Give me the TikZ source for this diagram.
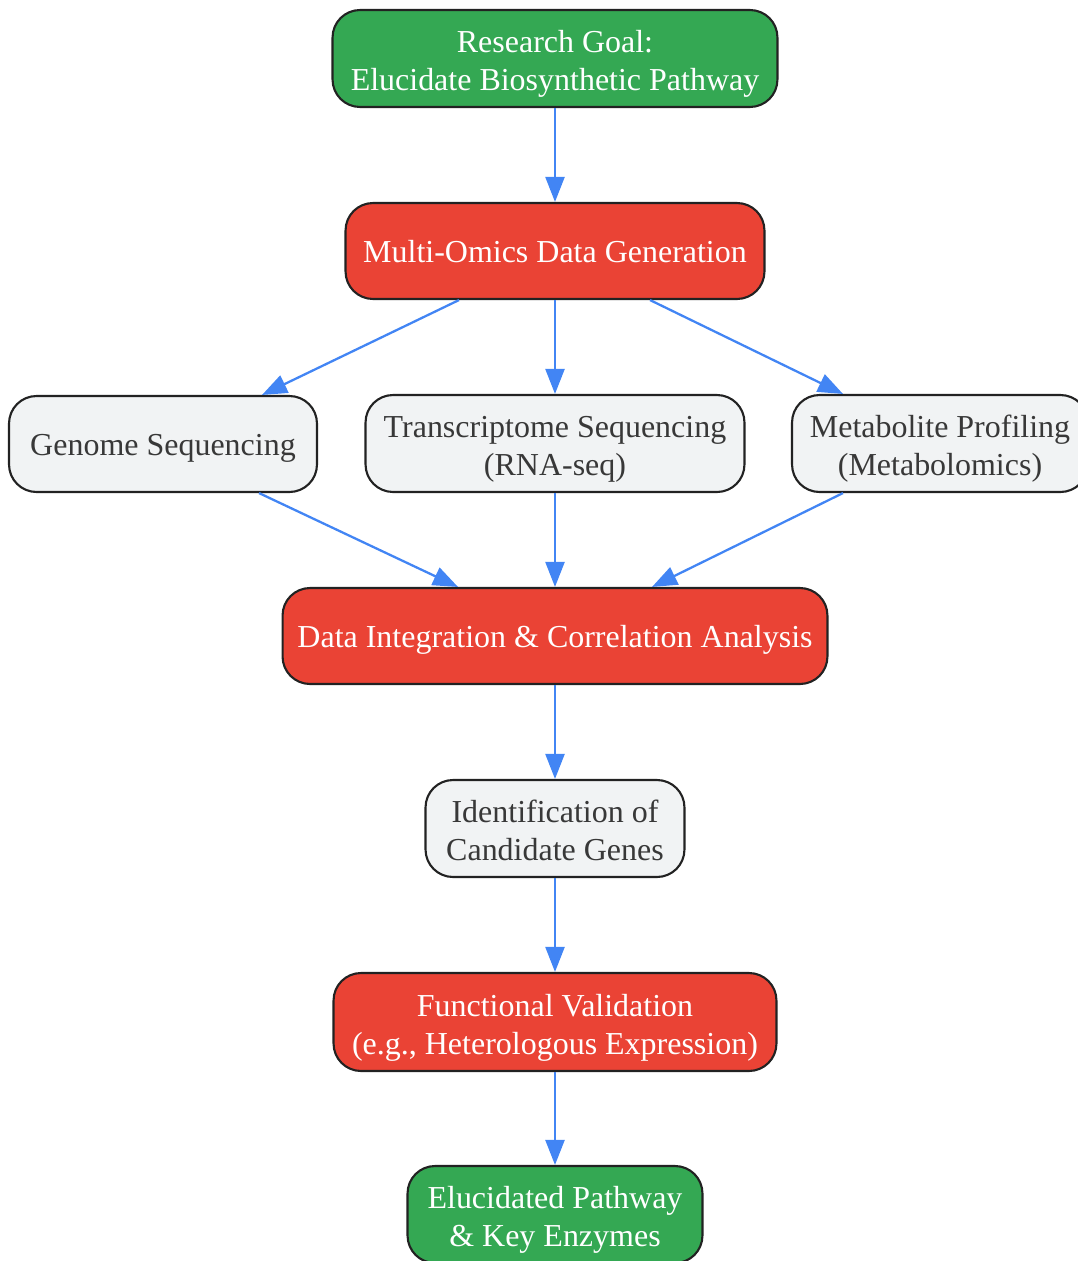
\documentclass[tikz,border=0pt]{standalone}
\usepackage{fontspec}
\setmainfont{Liberation Serif}
\usepackage{xcolor}
\usepackage{tikz}
\usetikzlibrary{calc,arrows.meta}

\definecolor{goalgreen}{HTML}{34A853}
\definecolor{stepred}{HTML}{EA4335}
\definecolor{datagrey}{HTML}{F1F3F4}
\definecolor{linkblue}{HTML}{4285F4}
\definecolor{inkdark}{HTML}{222222}

\tikzset{
  box/.style={draw=inkdark, line width=1.2pt, rounded corners=0.55cm, align=center,
    inner sep=0pt, font=\fontsize{18.2}{21.6}\selectfont,
    text height=0.66cm, text depth=0.2cm},
  twoline/.style={text height=1.48cm},
  greenbox/.style={box, fill=goalgreen, text=white},
  redbox/.style={box, fill=stepred, text=white},
  greybox/.style={box, fill=datagrey, text=inkdark!90},
  link/.style={draw=linkblue, line width=1.3pt, -{Triangle[length=0.5cm,width=0.38cm]}}
}

\begin{document}
\begin{tikzpicture}[x=0.02cm, y=-0.02cm]
    \useasboundingbox (0,0) rectangle (1078,1261);

    % Draw the main chain
    \node[greenbox, twoline, minimum width=8.9cm, minimum height=1.94cm] (goal) at (555,58.5)
        {Research Goal:\\Elucidate Biosynthetic Pathway};
    \node[redbox, minimum width=8.38cm, minimum height=1.92cm] (omics) at (555,251)
        {Multi-Omics Data Generation};

    % Draw the three data sources
    \node[greybox, minimum width=6.16cm, minimum height=1.92cm] (genome) at (163,444)
        {Genome Sequencing};
    \node[greybox, twoline, minimum width=7.58cm, minimum height=1.94cm] (rnaseq) at (555,443.5)
        {Transcriptome Sequencing\\(RNA-seq)};
    \node[greybox, twoline, minimum width=5.92cm, minimum height=1.94cm] (metab) at (940,443.5)
        {Metabolite Profiling\\(Metabolomics)};

    \node[redbox, minimum width=10.9cm, minimum height=1.92cm] (integr) at (555,636)
        {Data Integration \& Correlation Analysis};
    \node[greybox, twoline, minimum width=5.18cm, minimum height=1.94cm] (cand) at (555,828.5)
        {Identification of\\Candidate Genes};
    \node[redbox, twoline, minimum width=8.86cm, minimum height=1.96cm] (valid) at (555,1022)
        {Functional Validation\\(e.g., Heterologous Expression)};
    \node[greenbox, twoline, minimum width=5.9cm, minimum height=1.94cm] (result) at (555,1214.5)
        {Elucidated Pathway\\\& Key Enzymes};

    % Add the arrows
    \draw[link] (goal.south) -- (omics.north);
    \draw[link] ($(omics.south)+(-96,0)$) -- ($(genome.north)+(99,0)$);
    \draw[link] (omics.south) -- (rnaseq.north);
    \draw[link] ($(omics.south)+(95,0)$) -- ($(metab.north)+(-97,0)$);
    \draw[link] ($(genome.south)+(96,0)$) -- ($(integr.north)+(-97,0)$);
    \draw[link] (rnaseq.south) -- (integr.north);
    \draw[link] ($(metab.south)+(-97,0)$) -- ($(integr.north)+(97,0)$);
    \draw[link] (integr.south) -- (cand.north);
    \draw[link] (cand.south) -- (valid.north);
    \draw[link] (valid.south) -- (result.north);
\end{tikzpicture}
\end{document}
